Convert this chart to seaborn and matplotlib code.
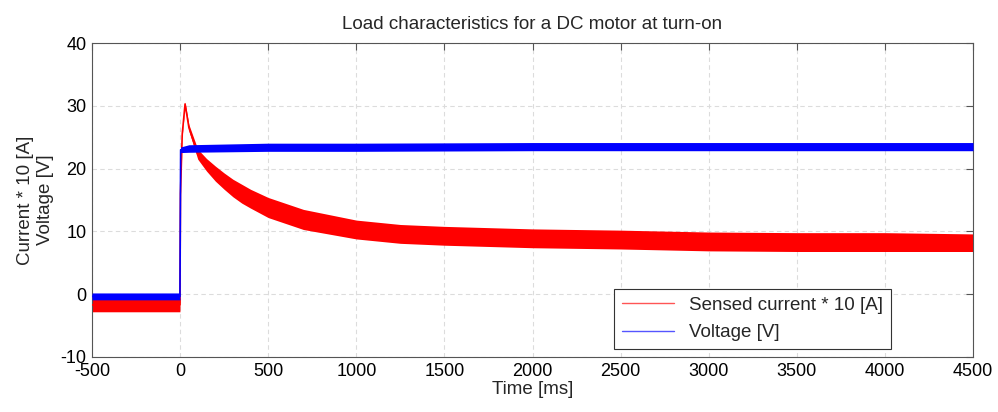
import pandas as pd
import matplotlib
matplotlib.use("Agg")
import matplotlib.pyplot as plt
from matplotlib.lines import Line2D
import seaborn as sns

# Envelope of the noisy traces
# time in ms, centre of the trace and half width of the noise band
cur_time = [-500, -250, -1, 2, 12, 28, 50, 100, 150, 200, 250, 300, 350, 400, 500, 700,
            1000, 1250, 1500, 2000, 2500, 3000, 3500, 4000, 4500]
cur_mid = [-1.7, -1.7, -1.7, 16.0, 25.5, 30.3, 26.5, 22.3, 20.6, 19.2, 18.0, 16.9, 16.0,
           15.2, 13.8, 11.9, 10.3, 9.6, 9.3, 8.9, 8.7, 8.4, 8.3, 8.3, 8.2]
cur_half = [1.1, 1.1, 1.1, 0.2, 0.3, 0.3, 0.5, 0.8, 1.0, 1.2, 1.3, 1.4, 1.5, 1.5,
            1.6, 1.6, 1.5, 1.5, 1.5, 1.5, 1.5, 1.5, 1.5, 1.5, 1.4]

volt_time = [-500, -250, -1, 3, 50, 500, 1000, 2000, 3000, 4000, 4500]
volt_mid = [-0.35, -0.35, -0.35, 23.0, 23.2, 23.4, 23.4, 23.5, 23.5, 23.5, 23.5]
volt_half = [0.55, 0.55, 0.55, 0.45, 0.6, 0.65, 0.65, 0.65, 0.65, 0.65, 0.65]

cur = pd.DataFrame({"t": cur_time, "v": cur_mid, "h": cur_half})
volt = pd.DataFrame({"t": volt_time, "v": volt_mid, "h": volt_half})

sns.set_theme(style="white")
plt.rcParams["font.family"] = ["Liberation Sans", "DejaVu Sans"]
plt.rcParams["axes.unicode_minus"] = False

fig = plt.figure(figsize=(9.98, 4.12), dpi=100)
ax = fig.add_axes([0.0922, 0.1335, 0.8828, 0.7621])

# red current trace: noise band plus centre line
ax.fill_between(cur["t"], cur["v"] - cur["h"], cur["v"] + cur["h"],
                color="#ff0000", lw=0, zorder=2)
sns.lineplot(data=cur, x="t", y="v", color="#ff0000", lw=1.2, ax=ax,
             estimator=None, sort=False, zorder=3)

# blue voltage trace on top
ax.fill_between(volt["t"], volt["v"] - volt["h"], volt["v"] + volt["h"],
                color="#0000ff", lw=0, zorder=4)
sns.lineplot(data=volt, x="t", y="v", color="#0000ff", lw=1.2, ax=ax,
             estimator=None, sort=False, zorder=5)

ax.set_xlim(-500, 4500)
ax.set_ylim(-10, 40)
ax.set_xticks(range(-500, 4501, 500))
ax.set_yticks(range(-10, 41, 10))
ax.grid(True, color="#dcdcdc", linestyle=(0, (4, 3)), lw=0.8)
ax.set_axisbelow(True)
ax.tick_params(direction="in", length=5, width=0.8, colors="#555555",
               labelcolor="#000000", top=True, right=True, labelsize=13, pad=4)
for s in ax.spines.values():
    s.set_color("#555555")
    s.set_linewidth(0.8)

ax.set_title("Load characteristics for a DC motor at turn-on", fontsize=13.5, pad=10)
ax.set_xlabel("Time [ms]", fontsize=13.5, labelpad=1)
ax.set_ylabel("Current * 10 [A]\nVoltage [V]", fontsize=13.5, labelpad=5)

handles = [Line2D([], [], color="#ff5555", lw=1.0),
           Line2D([], [], color="#5555ff", lw=1.0)]
leg = ax.legend(handles, ["Sensed current * 10 [A]", "Voltage [V]"],
                loc="upper left", bbox_to_anchor=(0.5925, 0.2166), fontsize=13.5,
                frameon=True, fancybox=False, framealpha=1, borderpad=0.42,
                handlelength=2.8, labelspacing=0.55, borderaxespad=0)
leg.get_frame().set_edgecolor("#333333")
leg.get_frame().set_linewidth(0.8)

fig.savefig("out.png", dpi=100)
